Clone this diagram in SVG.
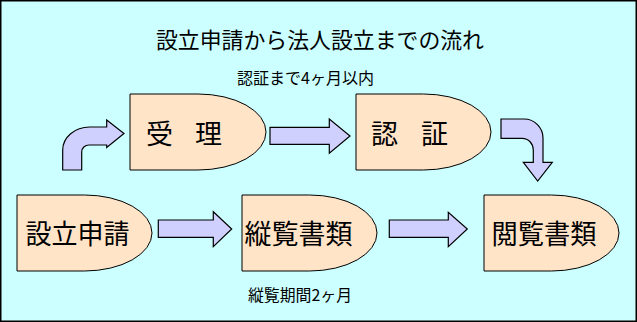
<svg xmlns="http://www.w3.org/2000/svg" width="637" height="322" viewBox="0 0 637 322">
<style>
.node{fill:#FFE4C8;stroke:#000;stroke-width:1}
.arr{fill:#D0D0FF;stroke:#000;stroke-width:1.2;stroke-linejoin:miter}
text{font-family:"Noto Sans CJK JP","Noto Sans CJK SC",sans-serif;fill:#000;dominant-baseline:central}
.lbl{font-size:27px}
.note{font-size:16px}
.title{font-size:22px}
</style>
<rect x="0.75" y="0.75" width="635.5" height="320.5" fill="#CCFFFF" stroke="#000" stroke-width="1.5"/>
<text class="title" x="156" y="38" textLength="328" lengthAdjust="spacingAndGlyphs">設立申請から法人設立までの流れ</text>
<text class="note" x="237" y="76.5" textLength="137" lengthAdjust="spacingAndGlyphs">認証まで4ヶ月以内</text>
<text class="note" x="248" y="294" textLength="104" lengthAdjust="spacingAndGlyphs">縦覧期間2ヶ月</text>
<g id="connectors">
<path class="arr" d="M62.7,170 V150 A27,23 0 0 1 89.7,127 H106.7 V120 L124,133.5 L106.7,147.5 V145 H89 A7.3,7 0 0 0 81.7,152 V170 Z"/>
<path class="arr" d="M270,127.3 H329.3 V119 L350,136 L329.3,153.3 V144.3 H270 Z"/>
<path class="arr" d="M501,119 H524 A19,19 0 0 1 543,138 V162.3 H552.3 L537.7,181 L523.3,162.3 H533.3 V150 A11,11.7 0 0 0 522.3,138.3 H501 Z"/>
<path class="arr" d="M158.3,220 H213.3 V211.7 L231.7,229 L213.3,246.7 V237.3 H158.3 Z"/>
<path class="arr" d="M389.3,220 H448.3 V212.3 L467.3,229 L448.3,246.7 V237.3 H389.3 Z"/>
</g>
<g id="juri">
<path class="node" d="M130,94 H198 A68,38 0 0 1 198,170 H130 Z"/>
<text class="lbl" x="146 195" y="132.5">受理</text>
</g>
<g id="ninsho">
<path class="node" d="M356,94 H423.5 A67.5,38 0 0 1 423.5,170 H356 Z"/>
<text class="lbl" x="371 421" y="132.5">認証</text>
</g>
<g id="shinsei">
<path class="node" d="M17,195 H84.5 A67.5,38 0 0 1 84.5,271 H17 Z"/>
<text class="lbl" x="25.5" y="232.5" textLength="104" lengthAdjust="spacingAndGlyphs">設立申請</text>
</g>
<g id="juran">
<path class="node" d="M242,195 H309.5 A67.5,38 0 0 1 309.5,271 H242 Z"/>
<text class="lbl" x="244.5" y="232.5" textLength="108" lengthAdjust="spacingAndGlyphs">縦覧書類</text>
</g>
<g id="etsuran">
<path class="node" d="M484,195 H551.5 A67.5,38 0 0 1 551.5,271 H484 Z"/>
<text class="lbl" x="491.5" y="232.5" textLength="105" lengthAdjust="spacingAndGlyphs">閲覧書類</text>
</g>
</svg>
